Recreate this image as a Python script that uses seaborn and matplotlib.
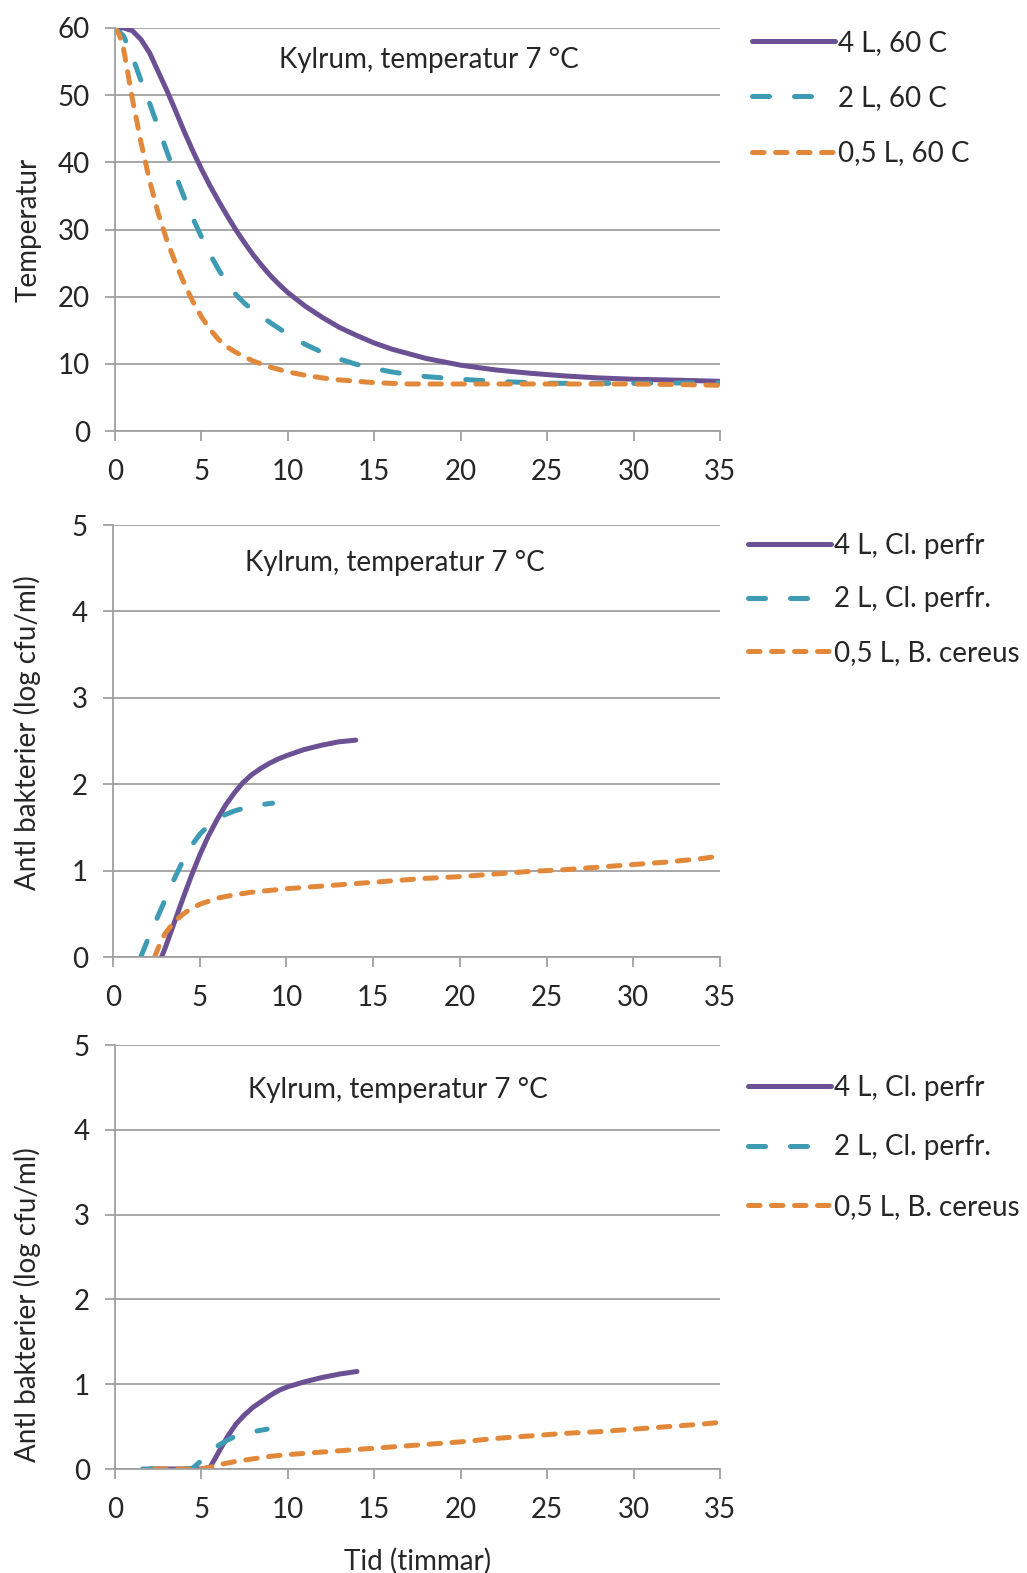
"""
Avsvalning och bakterietillväxt i kylrum, tre paneler.
"""
import matplotlib
matplotlib.use("Agg")
import matplotlib.pyplot as plt
import seaborn as sns

# Panel 1: temperatur
t_4l = [0, 0.5, 1, 1.5, 2, 2.5, 3, 3.5, 4, 4.5, 5, 5.5, 6, 6.5, 7, 7.5, 8, 8.5, 9, 9.5, 10,
        11, 12, 13, 14, 15, 16, 17, 18, 19, 20, 22, 24, 26, 28, 30, 32, 35]
temp_4l = [60, 60, 59.6, 58.3, 56.3, 53.5, 50.7, 47.7, 44.6, 41.7, 39.0, 36.5, 34.2, 32.0, 29.9,
           28.0, 26.2, 24.6, 23.1, 21.8, 20.6, 18.6, 16.9, 15.4, 14.2, 13.1, 12.2, 11.5, 10.8,
           10.3, 9.8, 9.1, 8.6, 8.2, 7.9, 7.7, 7.6, 7.4]
t_2l = [0, 0.5, 1, 1.5, 2, 2.5, 3, 3.5, 4, 4.5, 5, 5.5, 6, 6.5, 7, 7.5, 8, 9, 10, 11, 12, 13,
        14, 15, 16, 17, 18, 20, 22, 25, 30, 35]
temp_2l = [60, 58.8, 55.8, 52.2, 48.8, 45.2, 41.6, 38.1, 34.8, 31.7, 28.9, 26.3, 24.0, 22.0,
           20.3, 19.0, 17.9, 16.1, 14.4, 12.9, 11.7, 10.7, 9.9, 9.3, 8.8, 8.4, 8.1, 7.7, 7.4,
           7.1, 7.1, 7.2]
t_05l = [0, 0.25, 0.5, 0.75, 1, 1.5, 2, 2.5, 3, 3.5, 4, 4.5, 5, 5.5, 6, 6.5, 7, 8, 9, 10, 11,
         12, 13, 14, 15, 17, 20, 25, 30, 33, 35]
temp_05l = [60, 59, 56.8, 53.2, 49.5, 43.0, 37.3, 32.4, 28.4, 25.0, 22.0, 19.3, 17.0, 15.1,
            13.6, 12.5, 11.7, 10.4, 9.5, 8.8, 8.3, 7.9, 7.6, 7.4, 7.2, 7.0, 7.0, 7.0, 7.0, 6.9,
            6.8]

# Panel 2: bakterier
p2_t_4l = [2.8, 3, 3.5, 4, 4.5, 5, 5.5, 6, 6.5, 7, 7.5, 8, 8.5, 9, 9.5, 10, 11, 12, 13, 14]
p2_v_4l = [0, 0.1, 0.38, 0.66, 0.93, 1.18, 1.4, 1.59, 1.76, 1.9, 2.02, 2.11, 2.18, 2.24, 2.29,
           2.33, 2.4, 2.45, 2.49, 2.51]
p2_t_2l = [1.6, 2, 2.5, 3, 3.5, 4, 4.5, 5, 5.5, 6, 6.5, 7, 8, 9.2]
p2_v_2l = [0, 0.2, 0.43, 0.66, 0.89, 1.1, 1.28, 1.42, 1.52, 1.6, 1.65, 1.69, 1.75, 1.78]
p2_t_05l = [2.4, 2.7, 3, 3.5, 4, 4.5, 5, 6, 7, 8, 10, 12, 14, 16, 18, 20, 22, 24, 26, 28, 30,
            32, 34, 35]
p2_v_05l = [0, 0.15, 0.27, 0.4, 0.49, 0.56, 0.61, 0.68, 0.72, 0.75, 0.79, 0.82, 0.85, 0.88,
            0.91, 0.93, 0.96, 0.99, 1.01, 1.04, 1.07, 1.1, 1.14, 1.17]

# Panel 3: bakterier
p3_t_4l = [2, 3, 4, 5, 5.5, 6, 6.5, 7, 7.5, 8, 8.5, 9, 9.5, 10, 11, 12, 13, 14]
p3_v_4l = [0, 0, 0, 0, 0.02, 0.2, 0.38, 0.53, 0.64, 0.73, 0.8, 0.87, 0.93, 0.97, 1.03, 1.08,
           1.12, 1.15]
p3_t_2l = [1.6, 2, 3, 4, 4.5, 5, 5.5, 6, 6.5, 7, 8, 8.8]
p3_v_2l = [0, 0, 0, 0, 0.01, 0.1, 0.2, 0.28, 0.34, 0.39, 0.44, 0.47]
p3_t_05l = [2.3, 3, 4, 5, 5.5, 6, 7, 8, 9, 10, 12, 14, 16, 18, 20, 22, 24, 26, 28, 30, 32, 34, 35]
p3_v_05l = [0, 0, 0, 0, 0.02, 0.05, 0.09, 0.12, 0.15, 0.17, 0.2, 0.23, 0.26, 0.29, 0.32, 0.36,
            0.39, 0.42, 0.44, 0.47, 0.5, 0.53, 0.55]

labels_p1 = ["4 L, 60 C", "2 L, 60 C", "0,5 L, 60 C"]
labels_bakt = ["4 L, Cl. perfr", "2 L, Cl. perfr.", "0,5 L, B. cereus"]
titel = "Kylrum, temperatur 7 °C"

LILA = "#6B5194"
BLA = "#3D9BB3"
ORANGE = "#E2883B"
GRA = "#A0A0A0"
TEXT = "#262626"
FS = 20

sns.set_theme(style="white")
plt.rcParams["font.family"] = ["Lato", "DejaVu Sans"]

W, H = 1027, 1573
fig = plt.figure(figsize=(W / 100, H / 100), dpi=100)


def ny_axel(left, right, top, bottom):
    return fig.add_axes([left / W, 1 - bottom / H, (right - left) / W, (bottom - top) / H])


stilar = [
    dict(color=LILA, linestyle="-"),
    dict(color=BLA, linestyle=(0, (3.4, 5.0))),
    dict(color=ORANGE, linestyle=(0, (2.3, 2.3))),
]


def rita(ax, serier, labels, ymax, ystep, titelpos, leg_pos, spacing):
    for (x, y), lab, st in zip(serier, labels, stilar):
        sns.lineplot(x=x, y=y, ax=ax, label=lab, linewidth=3.6, sort=False,
                     solid_capstyle="round", dash_capstyle="round", **st)
    ax.set_xlim(0, 35)
    ax.set_ylim(0, ymax)
    ax.set_xticks(range(0, 36, 5))
    ax.set_yticks(range(0, ymax + 1, ystep))
    ax.grid(axis="y", color=GRA, linewidth=1.3)
    ax.grid(axis="x", visible=False)
    for s in ["top", "right"]:
        ax.spines[s].set_visible(False)
    for s in ["left", "bottom"]:
        ax.spines[s].set_color(GRA)
        ax.spines[s].set_linewidth(1.3)
    ax.tick_params(axis="both", direction="out", length=7, width=1.3, color=GRA,
                   labelsize=FS, labelcolor=TEXT, left=True, bottom=True)
    ax.tick_params(axis="x", pad=13)
    ax.tick_params(axis="y", pad=11)
    ax.set_xlabel("")
    ax.text(titelpos[0], titelpos[1], titel, transform=ax.transAxes, ha="center",
            va="center", fontsize=FS, color=TEXT)
    leg = ax.legend(loc="upper left", bbox_to_anchor=leg_pos, frameon=False,
                    fontsize=FS, handlelength=3.0, handletextpad=0.1,
                    labelspacing=spacing, borderaxespad=0, borderpad=0)
    for t in leg.get_texts():
        t.set_color(TEXT)


ax1 = ny_axel(115, 720, 28, 431)
rita(ax1, [(t_4l, temp_4l), (t_2l, temp_2l), (t_05l, temp_05l)], labels_p1,
     60, 10, (0.519, 0.92), (1.053, 0.995), 1.05)
ax1.set_ylabel("Temperatur", fontsize=FS, color=TEXT, va="center")
ax1.yaxis.set_label_coords(-0.142, 0.5)

ax2 = ny_axel(113, 720, 525, 957)
rita(ax2, [(p2_t_4l, p2_v_4l), (p2_t_2l, p2_v_2l), (p2_t_05l, p2_v_05l)], labels_bakt,
     5, 1, (0.465, 0.912), (1.046, 0.981), 0.98)
ax2.set_ylabel("Antl bakterier (log cfu/ml)", fontsize=FS, color=TEXT, va="center")
ax2.yaxis.set_label_coords(-0.142, 0.52)

ax3 = ny_axel(115, 720, 1045, 1469)
rita(ax3, [(p3_t_4l, p3_v_4l), (p3_t_2l, p3_v_2l), (p3_t_05l, p3_v_05l)], labels_bakt,
     5, 1, (0.468, 0.894), (1.046, 0.929), 1.2)
ax3.set_ylabel("Antl bakterier (log cfu/ml)", fontsize=FS, color=TEXT, va="center")
ax3.yaxis.set_label_coords(-0.145, 0.387)
ax3.set_xlabel("Tid (timmar)", fontsize=FS, color=TEXT, labelpad=18)

fig.savefig("out.png", dpi=100, facecolor="white")
